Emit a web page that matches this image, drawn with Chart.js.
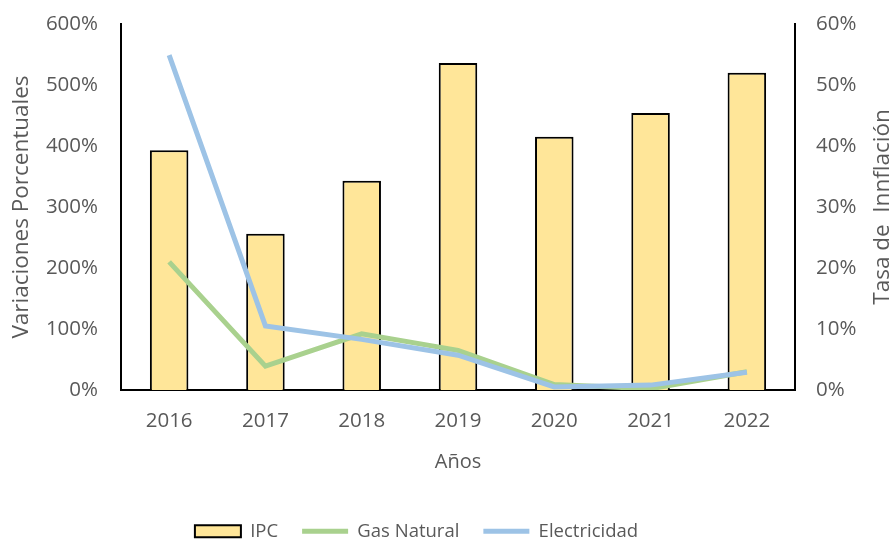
<!DOCTYPE html>
<html>
<head>
<meta charset="utf-8">
<script src="https://cdn.jsdelivr.net/npm/chart.js@4/dist/chart.umd.min.js"></script>
<style>
  body { margin: 0; background: #fff; }
  #wrap { width: 895px; height: 542px; }
</style>
</head>
<body>
<div id="wrap"><canvas id="chart"></canvas></div>
<script>
const years = ['2016', '2017', '2018', '2019', '2020', '2021', '2022'];
// IPC, tasa de inflación (eje derecho, %)
const ipc = [39.3, 25.6, 34.3, 53.6, 41.5, 45.4, 52.0];
// variaciones porcentuales (eje izquierdo, %)
const gasNatural = [210, 39, 92, 65, 9, 2, 30];
const electricidad = [549, 105, 83, 57, 5, 8, 29];

const textColor = '#595959';
const tickFont = { family: 'Open Sans', size: 20.5 };
const titleFont = { family: 'Open Sans', size: 22.5 };

const layoutFix = {
  id: 'layoutFix',
  beforeLayout(chart) {
    // legend sits right at the bottom edge, its own padding only spaces the items apart
    const lg = chart.legend;
    if (lg && !lg._short) {
      const fit = lg.fit;
      lg.fit = function () { fit.call(this); this.height = 44; };
      lg._short = true;
    }
  },
  afterLayout(chart) {
    // the original legend is centred a bit left of the page centre
    chart.legend.left = 0;
    chart.legend.right = 833;
  },
  afterDraw(chart) {
    // Excel reads the right title bottom-to-top
    const { ctx, chartArea } = chart;
    ctx.save();
    ctx.translate(883, (chartArea.top + chartArea.bottom) / 2);
    ctx.rotate(-Math.PI / 2);
    ctx.font = '22.5px "Open Sans"';
    ctx.fillStyle = textColor;
    ctx.textAlign = 'center';
    ctx.textBaseline = 'middle';
    ctx.fillText('Tasa de  Innflación', 0, 0);
    ctx.restore();
  }
};

const fixY = w => s => {
  s.width = w;
  s.paddingTop = 0;
  s.paddingBottom = 0;
};

new Chart(document.getElementById('chart'), {
  data: {
    labels: years,
    datasets: [
      {
        type: 'bar',
        label: 'IPC',
        data: ipc,
        yAxisID: 'y1',
        backgroundColor: '#FFE699',
        borderColor: '#000',
        borderWidth: 2,
        barPercentage: 0.4,
        categoryPercentage: 1,
        pointStyle: 'rect',
        order: 3
      },
      {
        type: 'line',
        label: 'Gas Natural',
        data: gasNatural,
        yAxisID: 'y',
        borderColor: '#A9D18E',
        backgroundColor: '#A9D18E',
        borderWidth: 5,
        pointRadius: 0,
        pointStyle: 'line',
        tension: 0,
        order: 2
      },
      {
        type: 'line',
        label: 'Electricidad',
        data: electricidad,
        yAxisID: 'y',
        borderColor: '#9DC3E6',
        backgroundColor: '#9DC3E6',
        borderWidth: 5,
        pointRadius: 0,
        pointStyle: 'line',
        tension: 0,
        order: 1
      }
    ]
  },
  options: {
    responsive: true,
    maintainAspectRatio: false,
    animation: false,
    layout: { padding: { top: 24, left: 0, right: 0, bottom: 0 } },
    plugins: {
      tooltip: { enabled: false },
      legend: {
        position: 'bottom',
        labels: {
          usePointStyle: true,
          pointStyleWidth: 46,
          boxHeight: 12,
          color: textColor,
          font: { family: 'Open Sans', size: 18.5 },
          padding: 24,
          sort: (a, b) => a.datasetIndex - b.datasetIndex
        }
      }
    },
    scales: {
      x: {
        grid: { display: false, drawTicks: false },
        border: { color: '#000', width: 2 },
        ticks: { color: textColor, font: tickFont, padding: 19 },
        title: { display: true, text: 'Años', color: textColor, font: { family: 'Open Sans', size: 20 }, padding: { top: 0, bottom: 24 } },
        afterFit: s => { s.height = 108; }
      },
      y: {
        position: 'left',
        min: 0,
        max: 600,
        grid: { display: false, drawTicks: false },
        border: { color: '#000', width: 2 },
        ticks: { stepSize: 100, color: textColor, font: tickFont, padding: 23, callback: v => v + '%' },
        title: { display: true, text: 'Variaciones Porcentuales', color: textColor, font: titleFont, padding: { top: 8, bottom: 0 } },
        afterFit: fixY(121)
      },
      y1: {
        position: 'right',
        min: 0,
        max: 60,
        grid: { display: false, drawOnChartArea: false, drawTicks: true, tickLength: 7, color: '#000', tickWidth: 2 },
        border: { color: '#000', width: 2 },
        ticks: { stepSize: 10, color: textColor, font: tickFont, padding: 14, callback: v => v + '%' },
        afterFit: fixY(100)
      }
    }
  },
  plugins: [layoutFix]
});
</script>
</body>
</html>
